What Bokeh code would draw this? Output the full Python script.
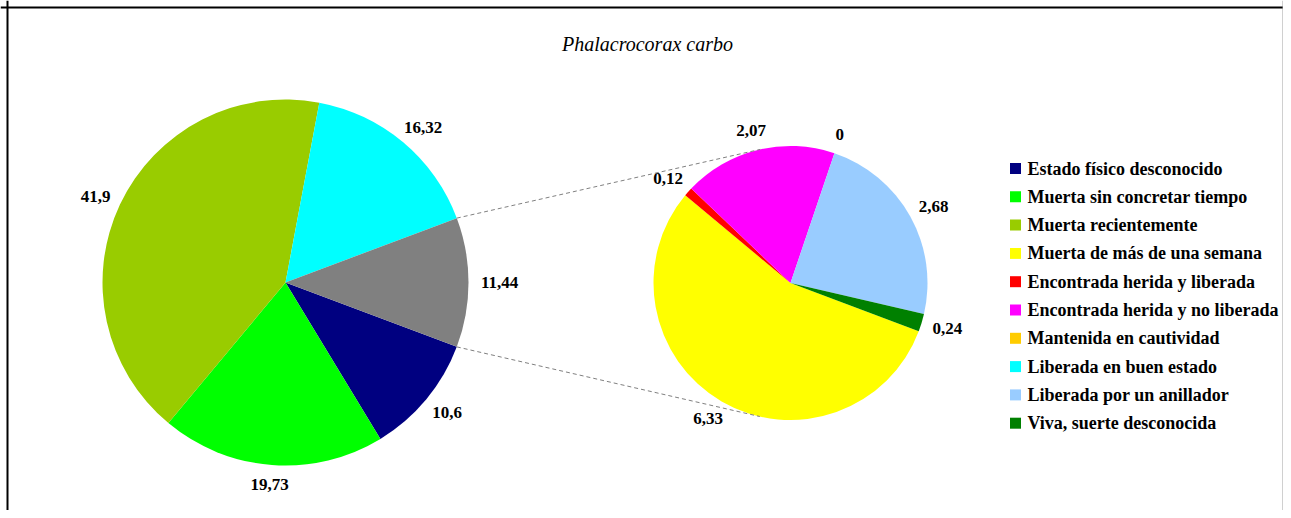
import numpy as np
from bokeh.plotting import figure
from bokeh.models import Range1d, Span
from bokeh.core.properties import value
from bokeh.embed import file_html
from bokeh.resources import INLINE

# ---------------- data ----------------
title = "Phalacrocorax carbo"
categories = ["Estado físico desconocido", "Muerta sin concretar tiempo", "Muerta recientemente",
              "Muerta de más de una semana", "Encontrada herida y liberada",
              "Encontrada herida y no liberada", "Mantenida en cautividad",
              "Liberada en buen estado", "Liberada por un anillador", "Viva, suerte desconocida"]
values = [10.6, 19.73, 41.9, 6.33, 0.12, 2.07, 0, 16.32, 2.68, 0.24]
colors = ["#000080", "#00FF00", "#99CC00", "#FFFF00", "#FF0000",
          "#FF00FF", "#FFCC00", "#00FFFF", "#99CCFF", "#008000"]
in_second = [False, False, False, True, True, True, True, False, True, True]
other_color = "#808080"

# ---------------- layout / style ----------------
W, H = 1283, 510
FONT = value("Liberation Serif")
LABEL_PX = 17
C1, R1 = (285.0, -282.0), 183.0
C2, R2 = (790.0, -282.5), 137.0
PAD = 12.0


def fmt(v):
    return f"{v:g}".replace(".", ",")


def text_w(s):
    # approximate label width (serif bold digits 0.5em, comma 0.25em)
    return sum(0.25 if ch == "," else 0.5 for ch in s) * LABEL_PX


p = figure(width=W, height=H, x_range=Range1d(0, W), y_range=Range1d(-H, 0),
           output_backend="svg", toolbar_location=None, min_border=0,
           x_axis_type=None, y_axis_type=None)
p.grid.visible = False
p.outline_line_color = None
p.background_fill_color = "white"
p.border_fill_color = "white"

main_vals = [v for v, s in zip(values, in_second) if not s]
main_cols = [c for c, s in zip(colors, in_second) if not s]
sec_vals = [v for v, s in zip(values, in_second) if s]
sec_cols = [c for c, s in zip(colors, in_second) if s]
other = sum(sec_vals)
main_vals = main_vals + [other]
main_cols = main_cols + [other_color]

total = sum(main_vals)
other_half = other / total * np.pi
start = -other_half  # both pies start just below the 'other' slice, clockwise


def draw_pie(vals, cols, center, radius, tot):
    fr = np.array(vals, dtype=float) / tot * 2 * np.pi
    ends = start - np.concatenate([[0], np.cumsum(fr)[:-1]])
    starts = ends - fr
    keep = fr > 0
    n = int(keep.sum())
    p.wedge(x=[center[0]] * n, y=[center[1]] * n, radius=radius,
            start_angle=list(starts[keep]), end_angle=list(ends[keep]), direction="anticlock",
            fill_color=[c for c, k in zip(cols, keep) if k], line_color=None)
    # labels outside the slice, centred so the box clears the rim
    lx, ly, lt = [], [], []
    for v, s, e in zip(vals, starts, ends):
        mid = (s + e) / 2
        ux, uy = np.cos(mid), np.sin(mid)
        t = fmt(v)
        w, h = text_w(t), LABEL_PX - 1
        lx.append(center[0] + (radius + PAD) * ux + w / 2 * ux)
        ly.append(center[1] + (radius + PAD) * uy + h / 2 * uy)
        lt.append(t)
    p.text(x=lx, y=ly, text=lt, text_font=FONT, text_font_size=f"{LABEL_PX}px",
           text_font_style="bold", text_align="center", text_baseline="middle",
           text_color="black")


draw_pie(main_vals, main_cols, C1, R1, total)
draw_pie(sec_vals, sec_cols, C2, R2, other)

# connector lines (tangent from the 'other' slice edges to secondary pie)
for sign in (+1, -1):
    a = sign * other_half
    P = np.array([C1[0] + R1 * np.cos(a), C1[1] + R1 * np.sin(a)])
    d = P - np.array(C2)
    dist = np.hypot(*d)
    beta = np.arccos(R2 / dist)
    phi = np.arctan2(d[1], d[0])
    t = phi - sign * beta
    T = np.array([C2[0] + R2 * np.cos(t), C2[1] + R2 * np.sin(t)])
    p.line(x=[P[0], T[0]], y=[P[1], T[1]], line_color="#808080", line_width=1, line_dash="4 3")

# legend (manual)
leg_x, leg_y0, leg_dy = 1015, -168.0, 28.3
lgy = [leg_y0 - i * leg_dy for i in range(len(categories))]
p.scatter(x=[leg_x] * len(categories), y=lgy, marker="square", size=11,
          fill_color=colors, line_color=None)
p.text(x=[leg_x + 12] * len(categories), y=lgy, text=categories, text_font=FONT,
       text_font_size="18px", text_font_style="bold", text_align="left",
       text_baseline="middle", text_color="black")

# title
p.text(x=[647], y=[-43], text=[title], text_font=FONT, text_font_size="20px",
       text_font_style="italic", text_align="center", text_baseline="middle", text_color="black")

# frame border (left/top dark, right light)
p.add_layout(Span(location=7, dimension="height", line_color="black", line_width=2))
p.add_layout(Span(location=-7, dimension="width", line_color="black", line_width=2))
p.add_layout(Span(location=W - 0.5, dimension="height", line_color="#A0A0A0", line_width=1))

open("out.html", "w").write(file_html(p, INLINE))
